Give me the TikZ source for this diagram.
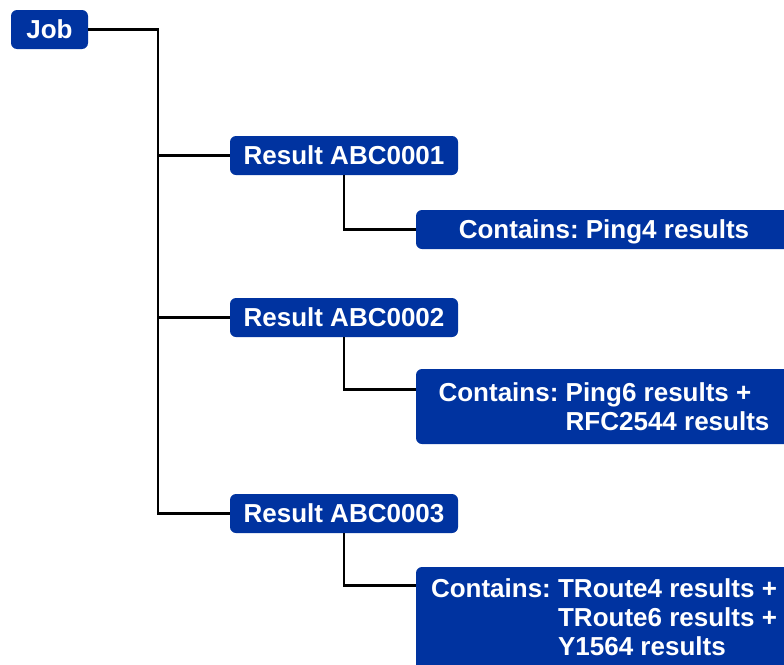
\documentclass[tikz,border=0pt]{standalone}
\usepackage{fontspec}
\setmainfont{Liberation Sans}
\usetikzlibrary{calc}
\definecolor{boxblue}{HTML}{0033A0}
\begin{document}
\frenchspacing
\begin{tikzpicture}[x=1pt,y=-1pt,
  box/.style={fill=boxblue,rounded corners=6pt,text=white,inner sep=0pt,
    font=\fontsize{26}{29}\selectfont\bfseries\frenchspacing},
  link/.style={line width=2.8pt,black}]
\useasboundingbox (0,0) rectangle (784,664);
\node[box,minimum width=77pt,minimum height=39pt] (job) at (49.5,29.5) {Job};
\node[box,minimum width=228pt,minimum height=39pt] (r1) at (344,155.5) {Result ABC0001};
\node[box,minimum width=228pt,minimum height=39pt] (r2) at (344,317.5) {Result ABC0002};
\node[box,minimum width=228pt,minimum height=39pt] (r3) at (344,513.5) {Result ABC0003};
\node[box,minimum width=376pt,minimum height=39pt] (c1) at (604,229.5)
  {\raisebox{-2pt}[\height][\depth]{Contains: Ping4 results}};
\node[box,minimum width=376pt,minimum height=75pt] (c2) at (604,406.5)
  {\raisebox{-4pt}[\height][\depth]{\begin{tabular}{@{}l@{ }l@{}}Contains: & Ping6 results +\\ & RFC2544 results\end{tabular}}};
\node[box,minimum width=376pt,minimum height=106pt] (c3) at (604,620)
  {\raisebox{-1pt}[\height][\depth]{\begin{tabular}{@{}l@{ }l@{}}Contains: & TRoute4 results +\\ & TRoute6 results +\\ & Y1564 results\end{tabular}}};
\coordinate (tr) at (158,513.5);
\draw[link] (job.east) -| (tr) -- (r3.west);
\draw[link] (r1.west) -- (r1.west -| tr);
\draw[link] (r2.west) -- (r2.west -| tr);
\draw[link] (r1.south) |- (c1.west);
\draw[link] (r2.south) |- ($(c2.north west)+(0,21)$);
\draw[link] (r3.south) |- ($(c3.north west)+(0,19)$);
\end{tikzpicture}
\end{document}
